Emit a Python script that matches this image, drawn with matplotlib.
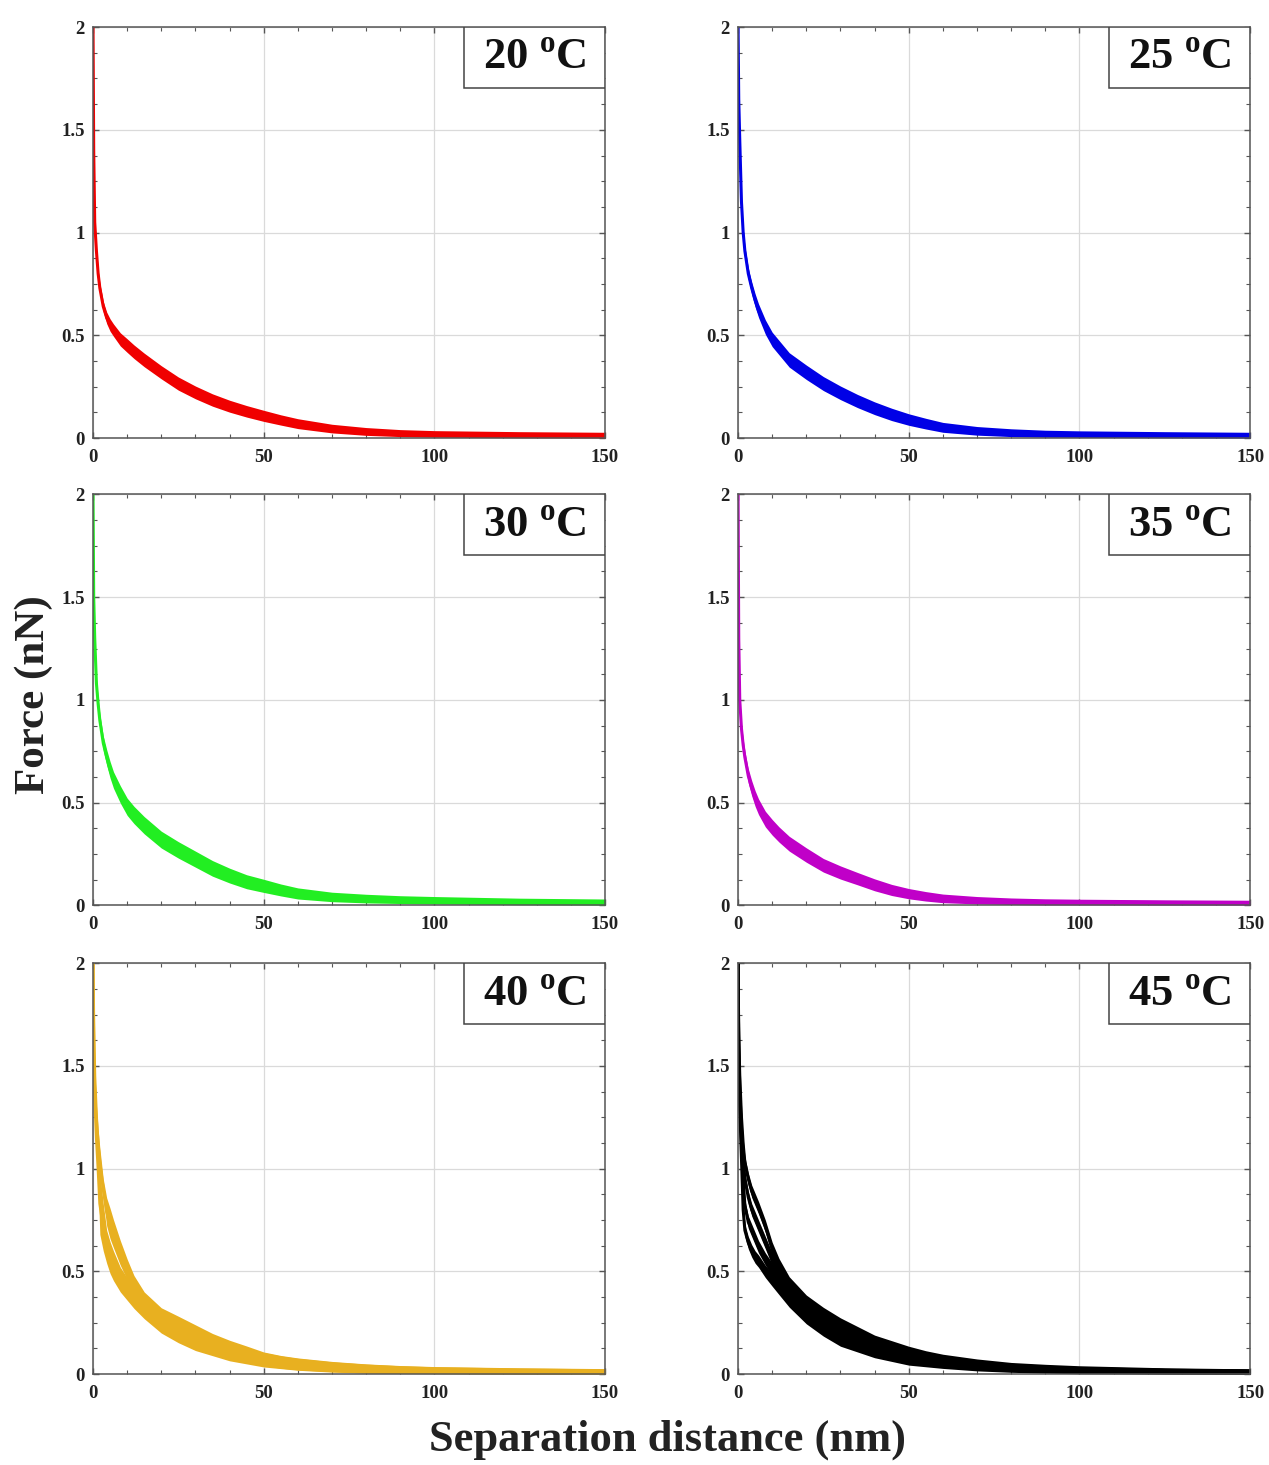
import numpy as np
import matplotlib
matplotlib.use('Agg')
import matplotlib.pyplot as plt
from matplotlib.patches import Rectangle
from matplotlib.ticker import MultipleLocator, FixedLocator

plt.rcParams['font.family'] = 'Liberation Serif'
plt.rcParams['font.weight'] = 'bold'
plt.rcParams['mathtext.fontset'] = 'custom'
plt.rcParams['mathtext.rm'] = 'Liberation Serif'
plt.rcParams['mathtext.bf'] = 'Liberation Serif:bold'

X_NM = [0, 0.2, 0.5, 1, 1.5, 2, 3, 4, 5, 6, 8, 10, 12, 15, 20, 25, 30, 35,
        40, 45, 50, 55, 60, 70, 80, 90, 100, 125, 150]

# force (nN): band centre and half spread, per temperature / trace
F20 = [2.0, 1.4, 1.05, 0.91, 0.80, 0.73, 0.64, 0.585, 0.55, 0.525, 0.48, 0.45,
       0.42, 0.38, 0.32, 0.265, 0.222, 0.185, 0.155, 0.13, 0.108, 0.088, 0.07,
       0.046, 0.032, 0.024, 0.02, 0.016, 0.014]
S20 = [0, 0.01, 0.015, 0.02, 0.02, 0.025, 0.025, 0.028, 0.03, 0.03, 0.032,
       0.033, 0.033, 0.033, 0.032, 0.032, 0.031, 0.03, 0.029, 0.028, 0.027,
       0.025, 0.024, 0.021, 0.019, 0.017, 0.016, 0.015, 0.014]

F25 = [2.0, 1.65, 1.45, 1.15, 1.0, 0.91, 0.80, 0.73, 0.67, 0.62, 0.54, 0.48,
       0.44, 0.38, 0.32, 0.265, 0.22, 0.18, 0.145, 0.115, 0.09, 0.07, 0.052,
       0.035, 0.026, 0.021, 0.019, 0.016, 0.014]
S25 = [0, 0.01, 0.015, 0.02, 0.022, 0.025, 0.028, 0.03, 0.032, 0.033, 0.035,
       0.035, 0.035, 0.035, 0.035, 0.034, 0.033, 0.032, 0.031, 0.03, 0.028,
       0.026, 0.024, 0.021, 0.019, 0.017, 0.016, 0.015, 0.014]

F30 = [2.0, 1.5, 1.3, 1.08, 0.98, 0.90, 0.79, 0.72, 0.66, 0.61, 0.54, 0.48,
       0.44, 0.39, 0.32, 0.27, 0.225, 0.18, 0.145, 0.115, 0.095, 0.075, 0.058,
       0.041, 0.033, 0.028, 0.025, 0.019, 0.016]
S30 = [0, 0.01, 0.02, 0.025, 0.03, 0.032, 0.035, 0.038, 0.04, 0.04, 0.042,
       0.042, 0.042, 0.042, 0.041, 0.04, 0.039, 0.038, 0.036, 0.034, 0.032,
       0.029, 0.027, 0.023, 0.021, 0.019, 0.018, 0.016, 0.015]

F35 = [2.0, 1.3, 1.0, 0.86, 0.78, 0.72, 0.63, 0.57, 0.52, 0.48, 0.42, 0.38,
       0.345, 0.30, 0.245, 0.195, 0.16, 0.13, 0.10, 0.075, 0.057, 0.044, 0.034,
       0.025, 0.02, 0.017, 0.016, 0.014, 0.013]
S35 = [0, 0.01, 0.02, 0.025, 0.03, 0.032, 0.035, 0.037, 0.038, 0.038, 0.038,
       0.038, 0.037, 0.036, 0.035, 0.033, 0.032, 0.03, 0.029, 0.027, 0.025,
       0.023, 0.021, 0.018, 0.016, 0.015, 0.014, 0.013, 0.012]

F40_A = [2.0, 1.6, 1.35, 1.15, 1.0, 0.83, 0.715, 0.62, 0.567, 0.527, 0.46,
         0.415, 0.375, 0.32, 0.25, 0.20, 0.16, 0.13, 0.105, 0.085, 0.07,
         0.058, 0.048, 0.035, 0.027, 0.022, 0.019, 0.015, 0.013]
S40_A = [0, 0.03, 0.05, 0.06, 0.08, 0.15, 0.115, 0.08, 0.077, 0.072, 0.06,
         0.055, 0.055, 0.05, 0.05, 0.047, 0.045, 0.04, 0.04, 0.035, 0.035,
         0.031, 0.029, 0.025, 0.022, 0.019, 0.017, 0.015, 0.013]
F40_B = [2.0, 1.7, 1.45, 1.25, 1.12, 1.03, 0.90, 0.79, 0.733, 0.683, 0.59,
         0.51, 0.43, 0.35, 0.275, 0.235, 0.195, 0.155, 0.125, 0.10, 0.075,
         0.06, 0.05, 0.037, 0.028, 0.023, 0.02, 0.016, 0.014]
S40_B = [0, 0.03, 0.05, 0.06, 0.07, 0.07, 0.05, 0.068, 0.074, 0.068, 0.06,
         0.05, 0.05, 0.05, 0.048, 0.047, 0.045, 0.043, 0.04, 0.037, 0.033,
         0.031, 0.029, 0.025, 0.022, 0.019, 0.017, 0.015, 0.013]

F45_1 = [2.0, 1.5, 1.3, 1.05, 0.80, 0.70, 0.64, 0.60, 0.57, 0.55, 0.50, 0.46,
         0.42, 0.36, 0.28, 0.22, 0.17, 0.14, 0.11, 0.09, 0.07, 0.06, 0.05,
         0.035, 0.026, 0.021, 0.017, 0.013, 0.011]
F45_2 = [2.0, 1.55, 1.35, 1.12, 0.95, 0.82, 0.74, 0.70, 0.66, 0.62, 0.56, 0.51,
         0.46, 0.40, 0.31, 0.25, 0.20, 0.165, 0.135, 0.11, 0.09, 0.075, 0.062,
         0.045, 0.032, 0.025, 0.02, 0.015, 0.012]
F45_3 = [2.0, 1.6, 1.4, 1.18, 1.05, 0.95, 0.86, 0.80, 0.76, 0.72, 0.64, 0.56,
         0.50, 0.42, 0.33, 0.27, 0.22, 0.18, 0.15, 0.12, 0.10, 0.082, 0.068,
         0.05, 0.036, 0.028, 0.022, 0.016, 0.013]
F45_4 = [2.0, 1.65, 1.45, 1.25, 1.12, 1.03, 0.95, 0.89, 0.85, 0.81, 0.72, 0.61,
         0.53, 0.44, 0.35, 0.29, 0.24, 0.20, 0.16, 0.135, 0.11, 0.09, 0.075,
         0.055, 0.04, 0.032, 0.026, 0.018, 0.014]
S45 = [0, 0.02, 0.025, 0.03, 0.03, 0.03, 0.03, 0.03, 0.03, 0.03, 0.03, 0.032,
       0.033, 0.034, 0.035, 0.035, 0.034, 0.032, 0.03, 0.028, 0.026, 0.024,
       0.022, 0.019, 0.017, 0.016, 0.015, 0.013, 0.012]

TEMPS = ['20', '25', '30', '35', '40', '45']
COLORS = ['#f00000', '#0000e6', '#22ee22', '#c000c8', '#e8b020', '#000000']
TRACES = [
    [(F20, S20)],
    [(F25, S25)],
    [(F30, S30)],
    [(F35, S35)],
    [(F40_A, S40_A), (F40_B, S40_B)],
    [(F45_1, S45), (F45_2, S45), (F45_3, S45), (F45_4, S45)],
]

fig = plt.figure(figsize=(12.69, 14.65), dpi=100)

lefts = [0.0733, 0.5816]
bottoms = [0.701, 0.382, 0.062]
w, h = 0.4035, 0.2805

x = np.array(X_NM)
for i, (temp, col, traces) in enumerate(zip(TEMPS, COLORS, TRACES)):
    ax = fig.add_axes([lefts[i % 2], bottoms[i // 2], w, h])
    for f, s in traces:
        f = np.array(f)
        s = np.array(s)
        ax.fill_between(x, f - s, f + s, color=col, lw=0, zorder=3)
        ax.plot(x, f, color=col, lw=2.2, zorder=3)

    ax.set_xlim(0, 150)
    ax.set_ylim(0, 2)
    ax.xaxis.set_major_locator(FixedLocator([0, 50, 100, 150]))
    ax.yaxis.set_major_locator(FixedLocator([0, 0.5, 1, 1.5, 2]))
    ax.set_yticklabels(['0', '0.5', '1', '1.5', '2'])
    ax.xaxis.set_minor_locator(MultipleLocator(10))
    ax.yaxis.set_minor_locator(MultipleLocator(0.125))
    ax.tick_params(which='both', direction='in', top=True, right=True,
                   color='#555555', labelsize=13.5, labelcolor='#222222')
    ax.tick_params(which='major', length=4, width=1)
    ax.tick_params(which='minor', length=3, width=0.8)
    ax.tick_params(axis='x', pad=8)
    ax.tick_params(axis='y', pad=6)
    ax.grid(True, which='major', color='#dadada', lw=0.9, zorder=0)
    for sp in ax.spines.values():
        sp.set_color('#555555')
        sp.set_linewidth(1.1)
        sp.set_zorder(4)

    ax.add_patch(Rectangle((0.724, 0.852), 0.276, 0.148, transform=ax.transAxes,
                           fc='white', ec='#444444', lw=1.1, zorder=5))
    ax.text(0.862, 0.922, temp + r' $^{\mathbf{o}}$C', transform=ax.transAxes,
            ha='center', va='center', fontsize=32, fontweight='bold',
            color='#111111', zorder=6)

fig.text(0.027, 0.526, 'Force (nN)', rotation=90, ha='center', va='center',
         fontsize=31, fontweight='bold', color='#222222')
fig.text(0.526, 0.017, 'Separation distance (nm)', ha='center', va='center',
         fontsize=32, fontweight='bold', color='#222222')

fig.savefig('out.png', dpi=100)
